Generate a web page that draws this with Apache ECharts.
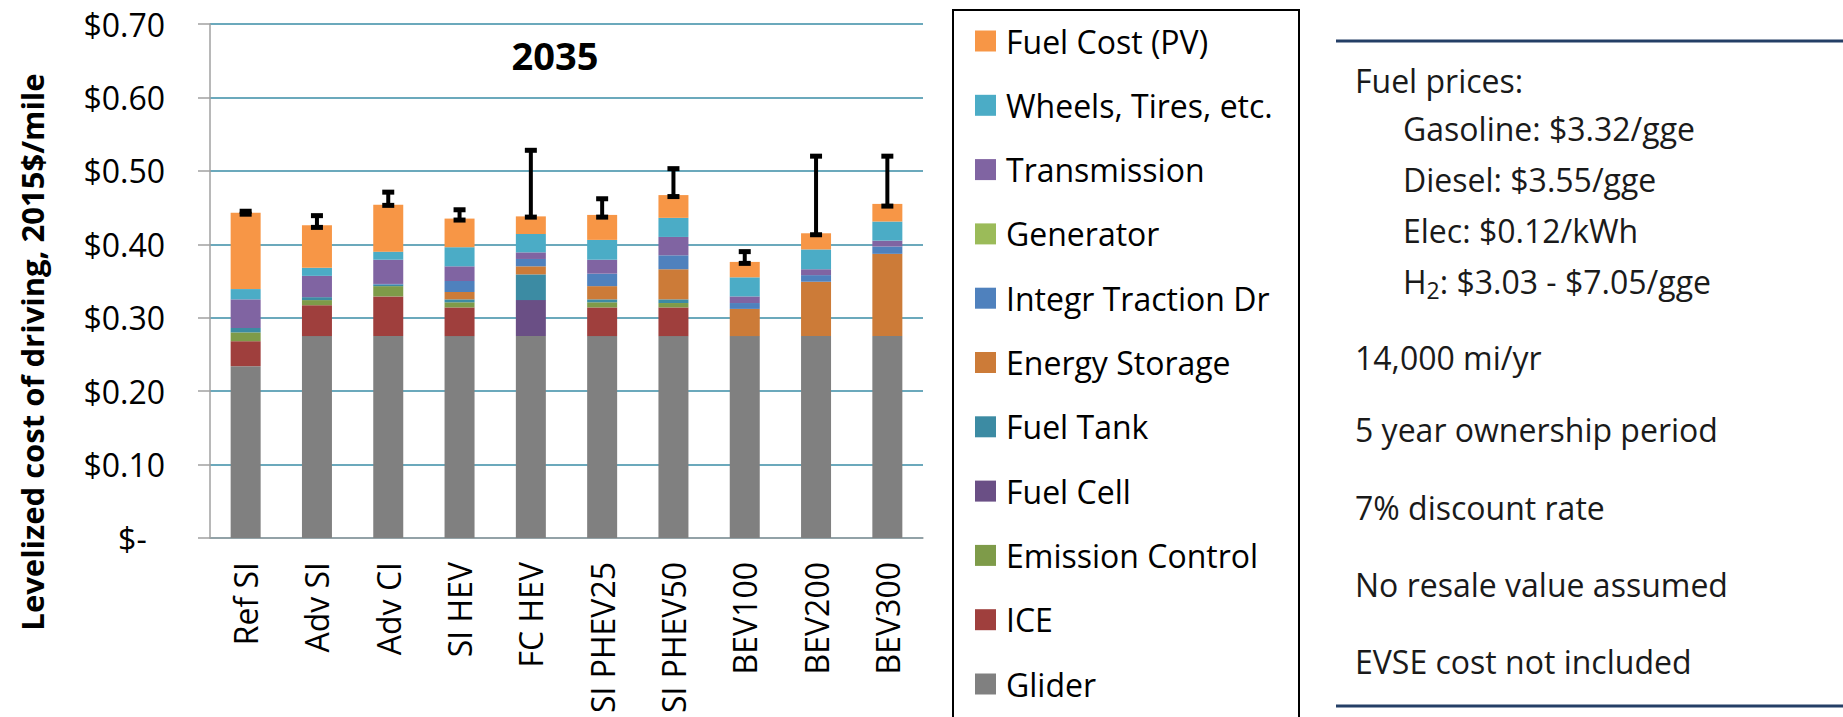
<!DOCTYPE html>
<html>
<head>
<meta charset="utf-8">
<script src="https://cdn.jsdelivr.net/npm/echarts@6/dist/echarts.min.js"></script>
<style>
html, body { margin: 0; padding: 0; background: #fff; }
#main { width: 1843px; height: 717px; }
</style>
</head>
<body>
<div id="main"></div>
<script>
// vehicle types on the x axis
var categories = ['Ref SI', 'Adv SI', 'Adv CI', 'SI HEV', 'FC HEV', 'SI PHEV25', 'SI PHEV50', 'BEV100', 'BEV200', 'BEV300'];

// cost components, $/mile (bottom of the stack first)
var glider         = [0.234, 0.275, 0.275, 0.275, 0.275, 0.275, 0.275, 0.275, 0.275, 0.275];
var ice            = [0.034, 0.042, 0.054, 0.039, 0, 0.039, 0.039, 0, 0, 0];
var emission       = [0.012, 0.007, 0.014, 0.007, 0, 0.007, 0.006, 0, 0, 0];
var fuelCell       = [0, 0, 0, 0, 0.049, 0, 0, 0, 0, 0];
var fuelTank       = [0.006, 0.004, 0.002, 0.004, 0.035, 0.004, 0.005, 0, 0, 0];
var energyStorage  = [0, 0, 0, 0.010, 0.011, 0.018, 0.041, 0.037, 0.074, 0.112];
var integrTraction = [0, 0, 0.001, 0.015, 0.010, 0.017, 0.019, 0.008, 0.009, 0.010];
var generator      = [0, 0, 0, 0, 0, 0, 0, 0, 0, 0];
var transmission   = [0.039, 0.029, 0.033, 0.020, 0.009, 0.019, 0.025, 0.009, 0.008, 0.008];
var wheels         = [0.014, 0.011, 0.011, 0.026, 0.025, 0.027, 0.026, 0.026, 0.027, 0.026];
var fuelCost       = [0.104, 0.058, 0.064, 0.039, 0.024, 0.034, 0.031, 0.021, 0.022, 0.024];

// error bar range
var errLow  = [0.441, 0.423, 0.453, 0.433, 0.437, 0.437, 0.465, 0.374, 0.413, 0.452];
var errHigh = [0.445, 0.439, 0.471, 0.447, 0.528, 0.462, 0.503, 0.390, 0.520, 0.520];

var yTicks = [0, 0.1, 0.2, 0.3, 0.4, 0.5, 0.6, 0.7];

var notes = ['Fuel prices:', 'Gasoline: $3.32/gge', 'Diesel: $3.55/gge', 'Elec: $0.12/kWh', 'H2: $3.03 - $7.05/gge',
             '14,000 mi/yr', '5 year ownership period', '7% discount rate', 'No resale value assumed', 'EVSE cost not included'];

var FONT = 'Open Sans';

var stack = [
  ['Glider', glider, '#808080'],
  ['ICE', ice, '#9F3F3D'],
  ['Emission Control', emission, '#7E9B49'],
  ['Fuel Cell', fuelCell, '#6A4F85'],
  ['Fuel Tank', fuelTank, '#3C8BA3'],
  ['Energy Storage', energyStorage, '#CC7B38'],
  ['Integr Traction Dr', integrTraction, '#4F81BD'],
  ['Generator', generator, '#9BBB59'],
  ['Transmission', transmission, '#8064A2'],
  ['Wheels, Tires, etc.', wheels, '#4BACC6'],
  ['Fuel Cost (PV)', fuelCost, '#F79646']
];

var series = stack.map(function (s) {
  return {
    name: s[0], type: 'bar', stack: 'cost', barWidth: 30,
    data: s[1], itemStyle: { color: s[2] }
  };
});

series.push({
  type: 'custom', name: 'err',
  data: categories.map(function (c, i) { return [i, errLow[i], errHigh[i]]; }),
  renderItem: function (params, api) {
    var lo = api.coord([api.value(0), api.value(1)]);
    var hi = api.coord([api.value(0), api.value(2)]);
    var x = lo[0], st = { stroke: '#000', lineWidth: 4 };
    var cap = { stroke: '#000', lineWidth: 5 };
    return {
      type: 'group',
      children: [
        { type: 'line', shape: { x1: x, y1: lo[1], x2: x, y2: hi[1] }, style: st },
        { type: 'line', shape: { x1: x - 6, y1: lo[1], x2: x + 6, y2: lo[1] }, style: cap },
        { type: 'line', shape: { x1: x - 6, y1: hi[1], x2: x + 6, y2: hi[1] }, style: cap }
      ]
    };
  },
  z: 10
});

var legendNames = stack.map(function (s) { return s[0]; }).reverse();

var graphics = [
  { type: 'text', x: 555, y: 55, style: { text: '2035', font: 'bold 38px "' + FONT + '"', fill: '#000', align: 'center', verticalAlign: 'middle' } },
  { type: 'text', x: 32, y: 352, rotation: Math.PI / 2,
    style: { text: 'Levelized cost of driving, 2015$/mile', font: 'bold 31px "' + FONT + '"', fill: '#000', align: 'center', verticalAlign: 'middle' } },
  { type: 'rect', shape: { x: 953, y: 10, width: 346, height: 730 }, style: { fill: 'none', stroke: '#000', lineWidth: 2 } },
  { type: 'line', shape: { x1: 1336, y1: 41, x2: 1843, y2: 41 }, style: { stroke: '#243F66', lineWidth: 3 } },
  { type: 'line', shape: { x1: 1336, y1: 706, x2: 1843, y2: 706 }, style: { stroke: '#243F66', lineWidth: 3 } }
];

var noteY = [80, 128, 179, 230, 281, 357, 429, 507, 584, 661];
var noteX = [1355, 1403, 1403, 1403, 1403, 1355, 1355, 1355, 1355, 1355];
notes.forEach(function (t, i) {
  var style = { text: t, font: '32px "' + FONT + '"', fill: '#1a1a1a', verticalAlign: 'middle' };
  if (t.indexOf('H2') === 0) {
    style = {
      text: '{a|H}{s|2}{a|' + t.slice(2) + '}', verticalAlign: 'middle',
      rich: {
        a: { fontFamily: FONT, fontSize: 32, lineHeight: 40, fill: '#1a1a1a' },
        s: { fontFamily: FONT, fontSize: 23, lineHeight: 14, verticalAlign: 'bottom', fill: '#1a1a1a' }
      }
    };
  }
  graphics.push({ type: 'text', x: noteX[i], y: noteY[i], style: style });
});

var chart = echarts.init(document.getElementById('main'), null, { renderer: 'svg' });
chart.setOption({
  animation: false,
  textStyle: { fontFamily: FONT },
  grid: { left: 210, right: 920, top: 24, bottom: 179 },
  legend: {
    data: legendNames, orient: 'vertical', left: 975, top: 25, height: 692, padding: 0,
    itemWidth: 21, itemHeight: 21, itemGap: 32.3, icon: 'rect', selectedMode: false,
    textStyle: { fontSize: 32, color: '#000', padding: [0, 0, 0, 5] }
  },
  xAxis: {
    type: 'category', data: categories,
    axisLine: { lineStyle: { color: '#A0A0A0', width: 1.5 } },
    axisTick: { length: 10, lineStyle: { color: '#A0A0A0', width: 1.5 } },
    axisLabel: { rotate: 90, fontSize: 32, color: '#000', margin: 24, interval: 0 }
  },
  yAxis: {
    type: 'value', min: yTicks[0], max: yTicks[yTicks.length - 1], interval: 0.1,
    axisLine: { show: true, lineStyle: { color: '#A0A0A0', width: 1.5 } },
    axisTick: { show: true, length: 12, lineStyle: { color: '#A0A0A0', width: 1.5 } },
    splitLine: { lineStyle: { color: '#3A8DA6', width: 1.5 } },
    axisLabel: {
      fontSize: 32, color: '#000', margin: 45,
      formatter: function (v) { return v === 0 ? '$-\u2007' : '$' + v.toFixed(2); }
    }
  },
  graphic: graphics,
  series: series
});
</script>
</body>
</html>
